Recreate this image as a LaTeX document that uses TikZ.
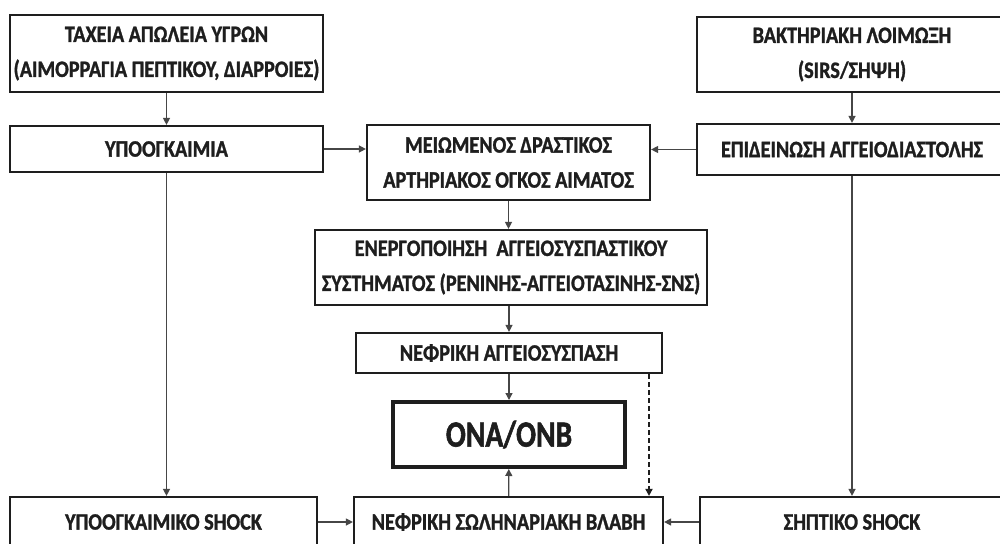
\documentclass[tikz,border=0pt]{standalone}
\usepackage{fontspec}
\setmainfont{Carlito}[FakeStretch=0.86,BoldFeatures={FakeBold=1.2}]
\newfontfamily\onafont{Carlito}[FakeStretch=0.80,BoldFeatures={FakeBold=1.5}]
\usetikzlibrary{arrows.meta,calc}
\definecolor{boxb}{RGB}{30,30,30}
\definecolor{arrc}{RGB}{70,70,70}
\definecolor{txt}{RGB}{30,30,30}
\tikzset{
  box/.style={draw=boxb,line width=2.2pt,fill=white,inner sep=0pt,align=center,text=txt,font=\fontsize{23.5}{35}\selectfont\bfseries},
  bigbox/.style={box,line width=4pt,font=\onafont\fontsize{37}{40}\selectfont\bfseries},
  arr/.style={-{Triangle[length=7pt,width=7pt]},arrc,line width=1.3pt},
  darr/.style={arr,boxb,line width=1.8pt,dash pattern=on 5pt off 3pt},
}

\begin{document}
\begin{tikzpicture}[x=1pt,y=-1pt]
\clip (0,0) rectangle (1000,543);
\fill[white] (0,0) rectangle (1000,543);
% ================= left column =================
\node[box,minimum width=313,minimum height=77] (fluid) at (166.5,53.5) {ΤΑΧΕΙΑ ΑΠΩΛΕΙΑ ΥΓΡΩΝ\\(ΑΙΜΟΡΡΑΓΙΑ ΠΕΠΤΙΚΟΥ, ΔΙΑΡΡΟΙΕΣ)};
\node[box,minimum width=313,minimum height=46] (hypo) at (166.5,149) {ΥΠΟΟΓΚΑΙΜΙΑ};
\node[box,minimum width=307,minimum height=50] (hshock) at (163.5,522) {ΥΠΟΟΓΚΑΙΜΙΚΟ SHOCK};
% ================= right column =================
\node[box,minimum width=310,minimum height=75] (infect) at (852,54.5) {ΒΑΚΤΗΡΙΑΚΗ ΛΟΙΜΩΞΗ\\(SIRS/ΣΗΨΗ)};
\node[box,minimum width=310,minimum height=51] (dilat) at (852,149.5) {ΕΠΙΔΕΙΝΩΣΗ ΑΓΓΕΙΟΔΙΑΣΤΟΛΗΣ};
\node[box,minimum width=304,minimum height=50] (sshock) at (852,522) {ΣΗΠΤΙΚΟ SHOCK};
% ================= middle column =================
\node[box,minimum width=283,minimum height=75] (volume) at (508.5,162.5) {ΜΕΙΩΜΕΝΟΣ ΔΡΑΣΤΙΚΟΣ\\ΑΡΤΗΡΙΑΚΟΣ ΟΓΚΟΣ ΑΙΜΑΤΟΣ};
\node[box,minimum width=392,minimum height=75] (activ) at (511,267.5) {ΕΝΕΡΓΟΠΟΙΗΣΗ\ \ ΑΓΓΕΙΟΣΥΣΠΑΣΤΙΚΟΥ\\ΣΥΣΤΗΜΑΤΟΣ (ΡΕΝΙΝΗΣ-ΑΓΓΕΙΟΤΑΣΙΝΗΣ-ΣΝΣ)};
\node[box,minimum width=306,minimum height=40] (constr) at (509,353) {ΝΕΦΡΙΚΗ ΑΓΓΕΙΟΣΥΣΠΑΣΗ};
\node[bigbox,minimum width=232,minimum height=65] (ona) at (509,434.5) {ΟΝΑ/ΟΝΒ};
\node[box,minimum width=309,minimum height=50] (tubul) at (508.5,522) {ΝΕΦΡΙΚΗ ΣΩΛΗΝΑΡΙΑΚΗ ΒΛΑΒΗ};
% ================= connectors =================
\draw[arr] (fluid) -- (hypo);
\draw[arr] (infect) -- (dilat);
\draw[arr] (hypo.east) -- (hypo.east -| volume.west);
\draw[arr] (dilat.west) -- (dilat.west -| volume.east);
\draw[arr] (hypo.south) -- (hypo.south |- hshock.north);
\draw[arr] (dilat) -- (sshock);
\draw[arr] (volume) -- (activ.north -| volume.south);
\draw[arr] (activ.south -| constr.north) -- (constr);
\draw[arr] (constr) -- (ona);
\draw[arr] (tubul) -- (ona);
\coordinate (dash) at (649,0);
\draw[darr] (constr.south -| dash) -- (tubul.north -| dash);
\draw[arr] (hshock) -- (tubul);
\draw[arr] (sshock) -- (tubul);
\end{tikzpicture}
\end{document}
